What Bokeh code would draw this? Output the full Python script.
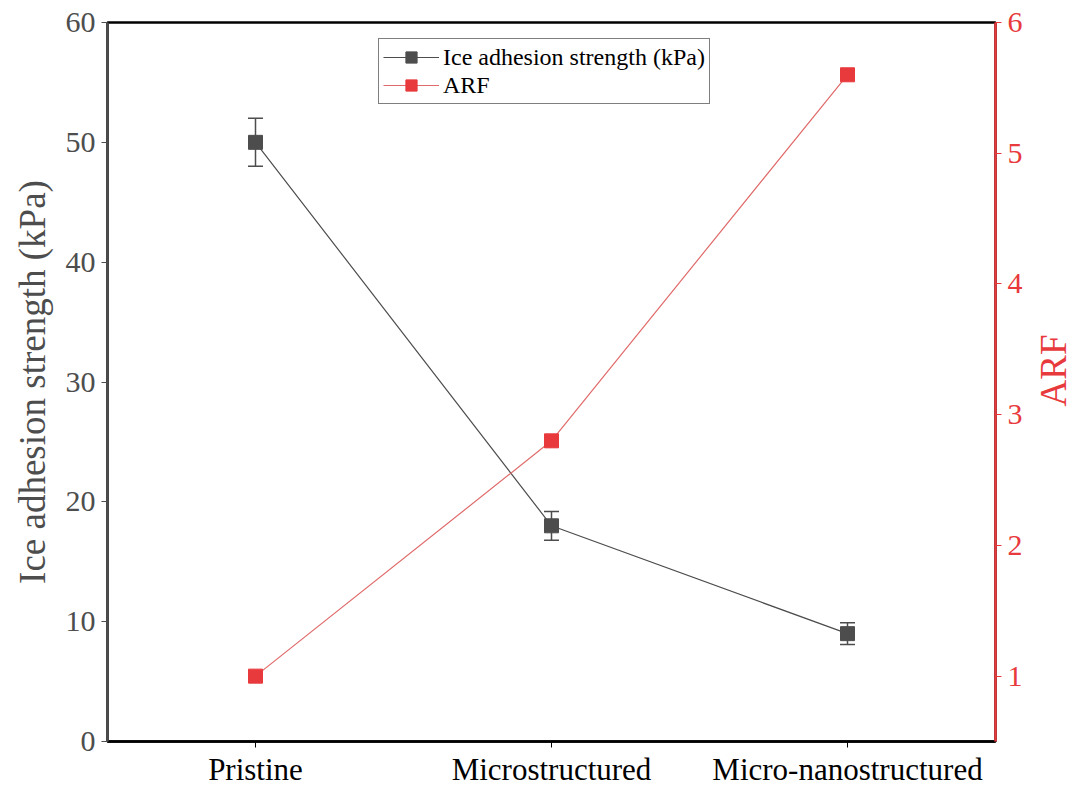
import math
from bokeh.plotting import figure
from bokeh.layouts import row
from bokeh.models import (FactorRange, Range1d, LinearAxis, Whisker, TeeHead,
                          ColumnDataSource, Legend, LegendItem, FixedTicker)
from bokeh.core.properties import value
from bokeh.embed import file_html
from bokeh.resources import INLINE

categories = ["Pristine", "Microstructured", "Micro-nanostructured"]
ice_strength = [50, 18, 9]
ice_error = [2.0, 1.2, 0.9]
arf = [1.0, 2.8, 5.6]

GRAY = "#4d4d4d"
RED = "#e8393c"
FONT = "Liberation Serif"

src = ColumnDataSource(dict(
    x=categories, y=ice_strength,
    upper=[v + e for v, e in zip(ice_strength, ice_error)],
    lower=[v - e for v, e in zip(ice_strength, ice_error)],
    arf=arf,
))

p = figure(frame_width=888, frame_height=719, x_range=FactorRange(*categories, range_padding=0),
           y_range=Range1d(0, 60), output_backend="svg", toolbar_location=None,
           min_border_left=107, min_border_right=40, min_border_top=22, min_border_bottom=30)
p.extra_y_ranges = {"arf": Range1d(0.5, 6)}
p.grid.visible = False
p.outline_line_color = "black"
p.outline_line_width = 2.5
p.outline_line_alpha = 1
p.background_fill_color = "white"

# Ice adhesion series
r1l = p.line("x", "y", source=src, line_color=GRAY, line_width=1.2)
w = Whisker(base="x", upper="upper", lower="lower", source=src, line_color=GRAY,
            line_width=1.5,
            upper_head=TeeHead(size=15, line_color=GRAY, line_width=1.5),
            lower_head=TeeHead(size=15, line_color=GRAY, line_width=1.5))
p.add_layout(w)
r1s = p.scatter("x", "y", source=src, marker="square", size=14, fill_color=GRAY,
                line_color=GRAY)

# ARF series
r2l = p.line("x", "arf", source=src, line_color="#e06a6a", line_width=1.2, y_range_name="arf")
r2s = p.scatter("x", "arf", source=src, marker="square", size=14, fill_color=RED,
                line_color=RED, y_range_name="arf")

# Left axis
ya = p.yaxis[0]
ya.ticker = FixedTicker(ticks=[0, 10, 20, 30, 40, 50, 60])
ya.axis_label = "Ice adhesion strength (kPa)"
ya.axis_line_color = GRAY
ya.axis_line_width = 2.5
ya.major_tick_line_color = GRAY
ya.major_tick_out = 6
ya.major_tick_in = 0
ya.minor_tick_line_color = None
ya.major_label_text_color = GRAY
ya.major_label_text_font = FONT
ya.major_label_text_font_size = "30px"
ya.axis_label_text_color = GRAY
ya.axis_label_text_font = FONT
ya.axis_label_text_font_size = "37px"
ya.axis_label_text_font_style = "normal"
ya.axis_label_standoff = 10
ya.major_label_standoff = 6

# Right axis
ra = LinearAxis(y_range_name="arf", ticker=FixedTicker(ticks=[1, 2, 3, 4, 5, 6]))
ra.axis_line_color = RED
ra.axis_line_width = 2.5
ra.major_tick_line_color = RED
ra.major_tick_out = 6
ra.major_tick_in = 0
ra.minor_tick_line_color = None
ra.major_label_text_color = RED
ra.major_label_text_font = FONT
ra.major_label_text_font_size = "30px"
ra.major_label_standoff = 6
p.add_layout(ra, "right")

# Bottom axis
xa = p.xaxis[0]
xa.axis_line_color = "black"
xa.axis_line_width = 2.5
xa.major_tick_line_color = "black"
xa.major_tick_out = 6
xa.major_tick_in = 0
xa.minor_tick_line_color = None
xa.major_label_text_color = "black"
xa.major_label_text_font = FONT
xa.major_label_text_font_size = "31px"
xa.major_label_standoff = 4

legend = Legend(items=[
    LegendItem(label="Ice adhesion strength (kPa)", renderers=[r1l, r1s]),
    LegendItem(label="ARF", renderers=[r2l, r2s]),
], location=(271, 637))
legend.label_text_font = FONT
legend.label_text_font_size = "24px"
legend.label_text_color = "black"
legend.border_line_color = "black"
legend.border_line_width = 1
legend.glyph_width = 56
legend.glyph_height = 28
legend.label_height = 28
legend.spacing = 0
legend.padding = 4
legend.margin = 0
legend.label_standoff = 4
legend.background_fill_alpha = 1
p.add_layout(legend, "center")

# Right-hand axis title panel (reads bottom-to-top, as in the reference)
LAB_W, LAB_H = 35, 786
p2 = figure(width=LAB_W, height=LAB_H, x_range=Range1d(0, LAB_W), y_range=Range1d(0, LAB_H),
            output_backend="svg", toolbar_location=None,
            x_axis_location=None, y_axis_location=None,
            min_border=0, min_border_left=0, min_border_right=0,
            min_border_top=0, min_border_bottom=0)
p2.grid.visible = False
p2.outline_line_color = None
p2.text(x=[LAB_W / 2], y=[LAB_H - 382], text=["ARF"], angle=math.pi / 2,
        text_align="center", text_baseline="middle", text_font=value(FONT),
        text_font_size="37px", text_color=RED)

layout = row(p, p2, spacing=0)
open("out.html", "w").write(file_html(layout, INLINE))
